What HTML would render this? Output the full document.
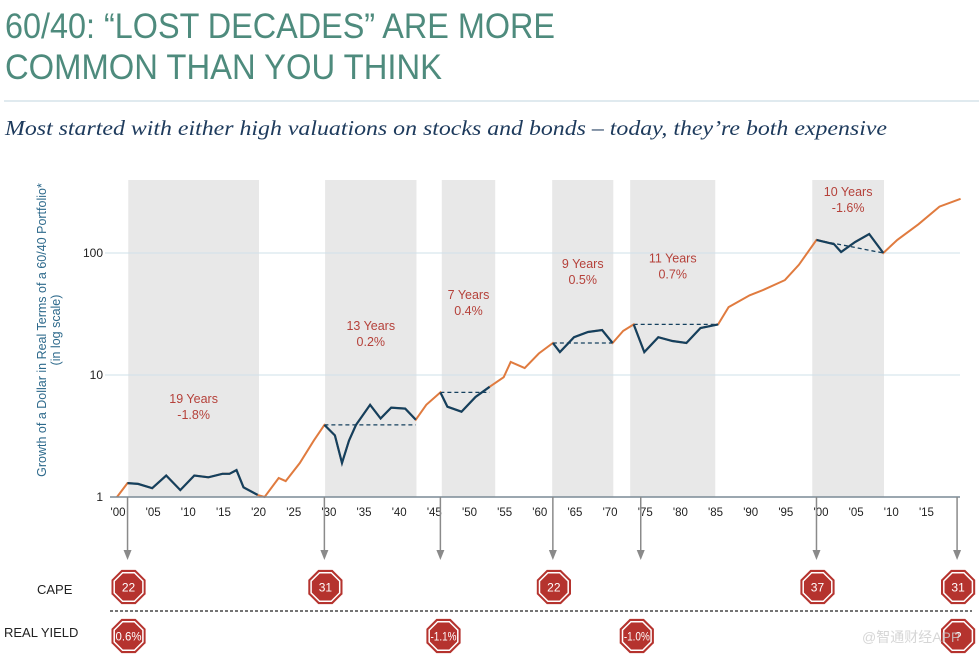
<!DOCTYPE html>
<html><head><meta charset="utf-8">
<style>
html,body{margin:0;padding:0;background:#fff;}
svg{display:block;}
text{font-family:"Liberation Sans Narrow","Liberation Sans",sans-serif;}
</style></head>
<body>
<svg id="chart" width="979" height="658" viewBox="0 0 979 658" xmlns="http://www.w3.org/2000/svg">
  <text x="5" y="38" font-size="35" fill="#4e8b7d" textLength="550" lengthAdjust="spacingAndGlyphs">60/40: “LOST DECADES” ARE MORE</text>
  <text x="5" y="79" font-size="35" fill="#4e8b7d" textLength="437" lengthAdjust="spacingAndGlyphs">COMMON THAN YOU THINK</text>
  <line x1="4" y1="101" x2="979" y2="101" stroke="#d6e3ea" stroke-width="1.5"/>
  <text x="5" y="135" font-size="21" font-style="italic" fill="#1d3a5c" style="font-family:'Liberation Serif',serif" textLength="882" lengthAdjust="spacingAndGlyphs">Most started with either high valuations on stocks and bonds – today, they’re both expensive</text>
  <g id="shades"></g>
  <g id="grid"></g>
  <g id="dashes"></g>
  <g id="lines"></g>
  <g id="labels"></g>
  <g id="axis"></g>
  <g id="bottom"></g>
  <text transform="translate(46,330) rotate(-90)" text-anchor="middle" font-size="12.5" fill="#2e6a8c">Growth of a Dollar in Real Terms of a 60/40 Portfolio*</text>
  <text transform="translate(60,330) rotate(-90)" text-anchor="middle" font-size="12.5" fill="#2e6a8c">(in log scale)</text>
  <text x="37" y="594" font-size="13" fill="#222">CAPE</text>
  <text x="4" y="637" font-size="13" fill="#222">REAL YIELD</text>
  <line x1="110" y1="611" x2="972" y2="611" stroke="#222" stroke-width="1.2" stroke-dasharray="3,2"/>
  <text x="862" y="642" font-size="14" fill="#ccc" opacity="0.8" style="font-family:'Liberation Sans','Noto Sans CJK SC',sans-serif">@智通财经APP</text>
</svg>
<script>
const years = [1900,1901.5,1903,1905,1907,1909,1911,1913,1915,1916,1917,1918,1920,1921,1923,1924,1926,1928,1929.5,1931,1932,1933,1934,1936,1937.5,1939,1941,1942.5,1944,1946,1947,1949,1951,1953,1955,1956,1958,1960,1962,1963,1965,1967,1969,1970.5,1972,1973.5,1975,1977,1979,1981,1983,1985.5,1987,1990,1992,1995,1997,1999.5,2002,2003,2005,2007,2009,2011,2014,2017,2020];
const values = [1.0,1.3,1.28,1.18,1.5,1.14,1.5,1.45,1.55,1.55,1.66,1.2,1.04,1.0,1.43,1.35,1.9,2.9,3.9,3.2,1.9,2.9,3.9,5.7,4.4,5.4,5.3,4.3,5.7,7.2,5.5,5.0,6.6,8.0,9.6,12.8,11.4,15,18.3,15.4,20.4,22.5,23.4,18.3,23,26,15.4,20.4,19,18.3,24.3,26,36,45,50,60,80,128,118,102,123,143,100,128,172,240,278];
const decadeStarts = [1901.5,1929.5,1946,1962,1973.5,1999.5];
const decadeEnds = [1920,1942.5,1953,1970.5,1985.5,2009];
const bandStarts = [1901.6,1929.6,1946.2,1961.9,1973.0,1998.9];
const bandEnds = [1920.2,1942.6,1953.8,1970.6,1985.1,2009.1];
const decadeYears = ["19 Years","13 Years","7 Years","9 Years","11 Years","10 Years"];
const decadeReturns = ["-1.8%","0.2%","0.4%","0.5%","0.7%","-1.6%"];
const yTicks = [1,10,100];
const xTickYears = [1900,1905,1910,1915,1920,1925,1930,1935,1940,1945,1950,1955,1960,1965,1970,1975,1980,1985,1990,1995,2000,2005,2010,2015];
const arrowYears = [1901.5,1929.5,1946,1962,1974.5,1999.5,2019.5];
const capeYears = [1901.5,1929.5,1962,1999.5,2019.5];
const capeValues = ["22","31","22","37","31"];
const yieldYears = [1901.5,1946.3,1973.8,2019.5];
const yieldValues = ["0.6%","-1.1%","-1.0%","?"];

const NS="http://www.w3.org/2000/svg";
const X = y => 117 + (y-1900)*7.03;
const Y = v => 497 - Math.log10(v)*122;
function mk(parent,tag,attrs){const e=document.createElementNS(NS,tag);for(const k in attrs)e.setAttribute(k,attrs[k]);document.getElementById(parent).appendChild(e);return e;}

bandStarts.forEach((s,i)=>{
  const r=mk('shades','rect',{x:X(s),y:180,width:X(bandEnds[i])-X(s),height:317,fill:'#e8e8e8'});
  
  
});
yTicks.forEach(v=>{
  if(v>1){const l=mk('grid','line',{x1:105,x2:960,y1:Y(v),y2:Y(v),stroke:'#cfe0ea','stroke-width':1});
  
  }
  const t=mk('grid','text',{x:103,y:Y(v)+4,'text-anchor':'end','font-size':12,fill:'#222'});
  t.textContent=v;
  
  
});
const orange=mk('lines','path',{d:years.map((y,i)=>(i?'L':'M')+X(y).toFixed(1)+','+Y(values[i]).toFixed(1)).join(''),fill:'none',stroke:'#e07b3f','stroke-width':2});


decadeStarts.forEach((s,i)=>{
  const pts=[];years.forEach((y,j)=>{if(y>=s-0.01&&y<=decadeEnds[i]+0.01)pts.push([X(y),Y(values[j])]);});
  const p=mk('lines','path',{d:pts.map((p,k)=>(k?'L':'M')+p[0].toFixed(1)+','+p[1].toFixed(1)).join(''),fill:'none',stroke:'#14405e','stroke-width':2.2});
  
  
  if(i>0){
    const si=years.findIndex(y=>y>=s-0.01), ei=years.findIndex(y=>y>=decadeEnds[i]-0.01);
    const last = i===5 ? values[ei] : values[si];
    const d=mk('dashes','line',{x1:X(s),y1:Y(values[si]),x2:X(decadeEnds[i]),y2:Y(last),stroke:'#14405e','stroke-width':1.3,'stroke-dasharray':'4,3'});
    
    
  }
  const mid=(X(bandStarts[i])+X(bandEnds[i]))/2;
  const maxV=Math.max(...pts.map(p=>-p[1]));
  const ty = i===0 ? 403 : (-maxV) - (i===5?38:i===4?62:i===3?62:i===2?88:i===1?75:0);
  const t1=mk('labels','text',{x:mid,y:ty,'text-anchor':'middle','font-size':12.5,fill:'#b5413a'});t1.textContent=decadeYears[i];
  
  
  const t2=mk('labels','text',{x:mid,y:ty+16,'text-anchor':'middle','font-size':12.5,fill:'#b5413a'});t2.textContent=decadeReturns[i];
  
  
});
const ax=mk('axis','line',{x1:110,x2:960,y1:497,y2:497,stroke:'#7a8a96','stroke-width':1.5});


xTickYears.forEach(y=>{
  const t=mk('axis','text',{x:X(y)+1,y:516,'text-anchor':'middle','font-size':11.5,fill:'#222'});
  t.textContent="'"+String(y%100).padStart(2,'0');
  
  
});
arrowYears.forEach(y=>{
  const x=X(y);
  const a=mk('bottom','line',{x1:x,x2:x,y1:497,y2:552,stroke:'#8a8a8a','stroke-width':1.5});
  
  
  const h=mk('bottom','path',{d:`M${x-4},550 L${x+4},550 L${x},560 Z`,fill:'#8a8a8a'});
  
  
});
function oct(cx,cy,r){const p=[];for(let k=0;k<8;k++){const a=Math.PI/8+k*Math.PI/4;p.push((cx+r*Math.cos(a)).toFixed(1)+','+(cy+r*Math.sin(a)).toFixed(1));}return p.join(' ');}
function badge(cx,cy,label,name){
  const g=mk('bottom','g',{});
  
  
  const o=document.createElementNS(NS,'polygon');o.setAttribute('points',oct(cx,cy,18.5));o.setAttribute('fill','#b5332e');g.appendChild(o);
  const i=document.createElementNS(NS,'polygon');i.setAttribute('points',oct(cx,cy,15.5));i.setAttribute('fill','#b5332e');i.setAttribute('stroke','#fff');i.setAttribute('stroke-width','1.5');g.appendChild(i);
  const t=document.createElementNS(NS,'text');t.setAttribute('x',cx);t.setAttribute('y',cy+4.5);t.setAttribute('text-anchor','middle');t.setAttribute('font-size','12');t.setAttribute('fill','#fff');
  if(label.length>3){t.setAttribute('textLength','26');t.setAttribute('lengthAdjust','spacingAndGlyphs');}
  t.textContent=label;g.appendChild(t);
}
capeYears.forEach((y,i)=>badge(X(y)+1,587,capeValues[i],'cape-badge'));
yieldYears.forEach((y,i)=>badge(X(y)+1,636,yieldValues[i],'real-yield-badge'));
</script>
</body></html>
